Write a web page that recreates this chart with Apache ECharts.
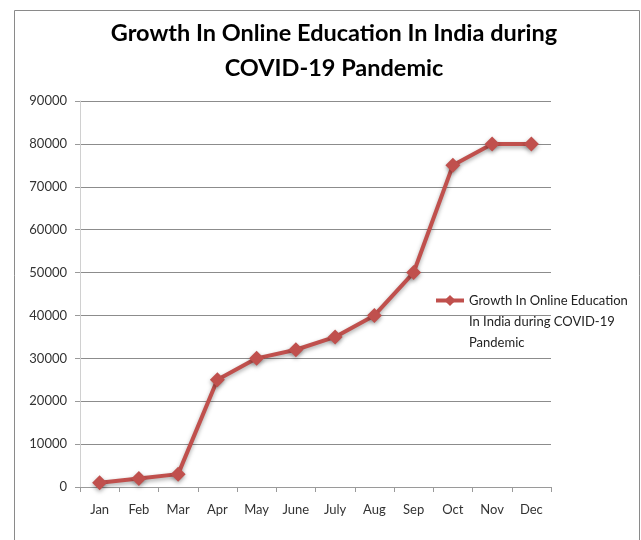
<!DOCTYPE html>
<html>
<head>
<meta charset="utf-8">
<style>
  html, body { margin: 0; padding: 0; background: #fff; }
  #chart { width: 641px; height: 540px; }
</style>
<script src="https://cdn.jsdelivr.net/npm/echarts@6/dist/echarts.min.js"></script>
</head>
<body>
<div id="chart"></div>
<script>
// Monthly figures for online education growth
const months = ['Jan', 'Feb', 'Mar', 'Apr', 'May', 'June', 'July', 'Aug', 'Sep', 'Oct', 'Nov', 'Dec'];
const growthValues = [1000, 2000, 3000, 25000, 30000, 32000, 35000, 40000, 50000, 75000, 80000, 80000];
const seriesName = 'Growth In Online Education In India during COVID-19 Pandemic';
const legendLines = ['Growth In Online Education', 'In India during COVID-19', 'Pandemic'];
const titleLines = ['Growth In Online Education In India during', 'COVID-19 Pandemic'];

const FONT = 'Lato, "Open Sans", sans-serif';
const RED = '#C0504D';
const LEGEND_X = 434;
const LEGEND_Y = 301;   // vertical centre of the first legend line
const LEGEND_LINE = 20.5;

const chart = echarts.init(document.getElementById('chart'), null, { renderer: 'canvas' });

// remaining legend lines continue under the legend entry text
const legendExtra = legendLines.slice(1).map((line, i) => ({
  type: 'text',
  left: LEGEND_X + 35,
  top: LEGEND_Y + LEGEND_LINE * (i + 1) - 6,
  silent: true,
  style: { text: line, fontFamily: FONT, fontSize: 13, fill: '#222' }
}));

chart.setOption({
  animation: false,
  backgroundColor: '#fff',
  title: {
    text: titleLines.join('\n'),
    // title lines are centred on x = left + padding
    left: 329,
    textAlign: 'center',
    top: 11,
    textStyle: {
      fontFamily: FONT,
      fontSize: 23.5,
      fontWeight: 'bold',
      color: '#000',
      lineHeight: 35
    }
  },
  graphic: [{
    type: 'rect',
    shape: { x: 14.5, y: 10.5, width: 625, height: 560 },
    style: { fill: 'none', stroke: '#8a8a8a', lineWidth: 1 },
    silent: true
  }].concat(legendExtra),
  legend: {
    left: LEGEND_X,
    top: LEGEND_Y - 7,
    padding: 0,
    itemWidth: 28,
    itemHeight: 14,
    data: [seriesName],
    formatter: () => legendLines[0],
    lineStyle: { width: 4 },
    textStyle: { fontFamily: FONT, fontSize: 13, color: '#222' }
  },
  grid: { left: 80, right: 90, top: 101, bottom: 53 },
  xAxis: {
    type: 'category',
    data: months,
    boundaryGap: true,
    axisLine: { lineStyle: { color: '#9a9a9a', width: 1 } },
    axisTick: { show: true, length: 5, lineStyle: { color: '#9a9a9a' } },
    axisLabel: { fontFamily: FONT, fontSize: 13, color: '#333', margin: 16 },
    splitLine: { show: false }
  },
  yAxis: {
    type: 'value',
    min: 0,
    max: 90000,
    interval: 10000,
    axisLine: { show: true, lineStyle: { color: '#d0d0d0', width: 1 } },
    axisTick: { show: true, length: 5, lineStyle: { color: '#9a9a9a' } },
    axisLabel: {
      fontFamily: FONT, fontSize: 13, color: '#333', margin: 13,
      formatter: (v) => String(v)
    },
    splitLine: { show: true, lineStyle: { color: '#8c8c8c', width: 1 } }
  },
  series: [{
    name: seriesName,
    type: 'line',
    data: growthValues,
    symbol: 'diamond',
    symbolSize: 15,
    itemStyle: {
      color: RED,
      shadowBlur: 4,
      shadowColor: 'rgba(0,0,0,0.35)',
      shadowOffsetY: 2
    },
    lineStyle: {
      color: RED,
      width: 4,
      shadowBlur: 4,
      shadowColor: 'rgba(0,0,0,0.35)',
      shadowOffsetY: 2
    }
  }]
});
</script>
</body>
</html>
